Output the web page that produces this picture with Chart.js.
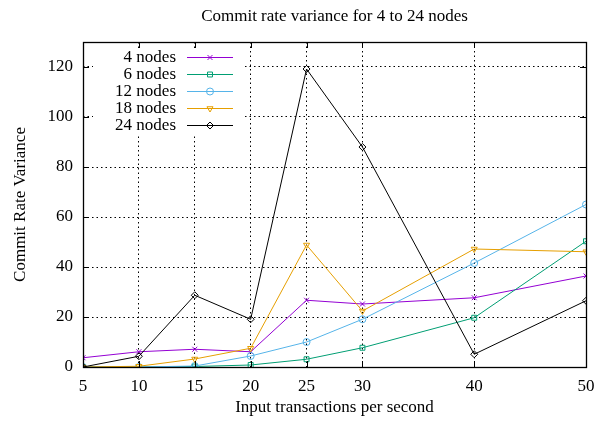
<!DOCTYPE html>
<html>
<head>
<meta charset="utf-8">
<script src="https://cdn.jsdelivr.net/npm/chart.js@4"></script>
<style>
html,body{margin:0;padding:0;background:#fff;}
#wrap{width:597px;height:422px;}
</style>
</head>
<body>
<div id="wrap"><canvas id="c" width="597" height="422"></canvas></div>
<script>
const xValues = [5, 10, 15, 20, 25, 30, 40, 50];
const xTicks = [5, 10, 15, 20, 25, 30, 40, 50];
const yTicks = [0, 20, 40, 60, 80, 100, 120];
const seriesNames = ['4 nodes', '6 nodes', '12 nodes', '18 nodes', '24 nodes'];
const nodes4  = [3.7, 6.1, 7.1, 6.1, 26.7, 25.2, 27.7, 36.4];
const nodes6  = [0.0, 0.0, 0.2, 0.8, 3.1, 7.7, 19.7, 50.3];
const nodes12 = [0.0, 0.0, 0.4, 4.4, 10.0, 19.1, 41.6, 65.0];
const nodes18 = [0.0, 0.3, 3.2, 7.5, 48.8, 22.4, 47.2, 46.1];
const nodes24 = [0.0, 4.3, 28.7, 19.1, 119.2, 88.0, 5.1, 26.5];
const seriesValues = [nodes4, nodes6, nodes12, nodes18, nodes24];
const colors = ['#9400d3', '#009e73', '#56b4e9', '#e69f00', '#000000'];
const styles = ['crossRot', 'rect', 'circle', 'triangle', 'rectRot'];
const rotations = [0, 0, 0, 180, 0];
const chartTitle = 'Commit rate variance for 4 to 24 nodes';

const FONT = "'Liberation Serif', 'Times New Roman', serif";

const datasets = seriesNames.map((name, i) => ({
  label: name,
  data: xValues.map((x, j) => ({x: x, y: seriesValues[i][j]})),
  borderColor: colors[i],
  backgroundColor: 'rgba(0,0,0,0)',
  borderWidth: 1,
  pointStyle: styles[i],
  pointRotation: rotations[i],
  pointRadius: 3.5,
  pointBorderWidth: 1,
  pointBorderColor: colors[i],
  pointBackgroundColor: 'rgba(0,0,0,0)',
  tension: 0,
  order: seriesNames.length - i
}));

const framePlugin = {
  id: 'frame',
  afterDraw(chart) {
    const ctx = chart.ctx;
    const a = chart.chartArea;
    const xs = chart.scales.x, ys = chart.scales.y;
    ctx.save();
    // title centred over plot area
    ctx.fillStyle = '#000';
    ctx.font = '17px ' + FONT;
    ctx.textAlign = 'center';
    ctx.textBaseline = 'middle';
    ctx.fillText(chartTitle, (a.left + a.right) / 2, 17);

    ctx.strokeStyle = '#000';
    ctx.lineWidth = 1;
    ctx.beginPath();
    yTicks.forEach(v => {
      const y = Math.round(ys.getPixelForValue(v)) + 0.5;
      ctx.moveTo(a.left, y); ctx.lineTo(a.left + 6, y);
      ctx.moveTo(a.right, y); ctx.lineTo(a.right - 6, y);
    });
    xTicks.forEach(v => {
      const x = Math.round(xs.getPixelForValue(v)) + 0.5;
      ctx.moveTo(x, a.bottom); ctx.lineTo(x, a.bottom - 6);
      ctx.moveTo(x, a.top); ctx.lineTo(x, a.top + 6);
    });
    ctx.stroke();
    ctx.lineWidth = 1.3;
    ctx.strokeRect(Math.round(a.left) + 0.5, Math.round(a.top) + 0.5, Math.round(a.right - a.left), Math.round(a.bottom - a.top));

    // legend (gnuplot style: text then sample)
    ctx.fillStyle = '#fff';
    ctx.fillRect(a.left + 10, a.top + 6, 152, 86);
    ctx.font = '17px ' + FONT;
    ctx.textAlign = 'right';
    ctx.textBaseline = 'middle';
    chart.data.datasets.forEach((ds, i) => {
      const y = a.top + 15 + 17 * i;
      ctx.fillStyle = '#000';
      ctx.fillText(ds.label, a.left + 93, y + 1);
      ctx.strokeStyle = ds.borderColor;
      ctx.lineWidth = 1;
      ctx.beginPath();
      ctx.moveTo(a.left + 104, y + 0.5);
      ctx.lineTo(a.left + 150, y + 0.5);
      ctx.stroke();
      ctx.fillStyle = 'rgba(0,0,0,0)';
      Chart.helpers.drawPoint(ctx, {pointStyle: ds.pointStyle, rotation: ds.pointRotation, radius: 3.5, borderWidth: 1}, a.left + 127, y + 0.5);
    });
    ctx.restore();
  }
};

new Chart(document.getElementById('c'), {
  type: 'line',
  data: { datasets: datasets },
  options: {
    responsive: false,
    animation: false,
    devicePixelRatio: 1,
    layout: { padding: { left: 0, right: 11, top: 42, bottom: 0 } },
    plugins: {
      legend: { display: false },
      tooltip: { enabled: false },
      title: { display: false }
    },
    scales: {
      x: {
        type: 'linear',
        min: 5, max: 50,
        afterBuildTicks: s => { s.ticks = xTicks.map(v => ({value: v})); },
        afterFit: s => { s.height = 55; s.paddingRight = 0; s.paddingLeft = 0; },
        grid: { color: '#000', lineWidth: 1, drawTicks: false },
        border: { display: false, dash: [1.5, 3] },
        ticks: { color: '#000', font: { family: FONT, size: 17 }, padding: 9, maxRotation: 0, autoSkip: false },
        title: { display: true, text: 'Input transactions per second', color: '#000', font: { family: FONT, size: 17 }, padding: { top: 2 } }
      },
      y: {
        type: 'linear',
        min: 0, max: 130,
        afterBuildTicks: s => { s.ticks = yTicks.map(v => ({value: v})); },
        afterFit: s => { s.width = 83; s.paddingTop = 0; s.paddingBottom = 0; },
        grid: { color: '#000', lineWidth: 1, drawTicks: false },
        border: { display: false, dash: [1.5, 3] },
        ticks: { color: '#000', font: { family: FONT, size: 17 }, padding: 10 },
        title: { display: true, text: 'Commit Rate Variance', color: '#000', font: { family: FONT, size: 17 }, padding: { top: 10, bottom: 4 } }
      }
    }
  },
  plugins: [framePlugin]
});
</script>
</body>
</html>
